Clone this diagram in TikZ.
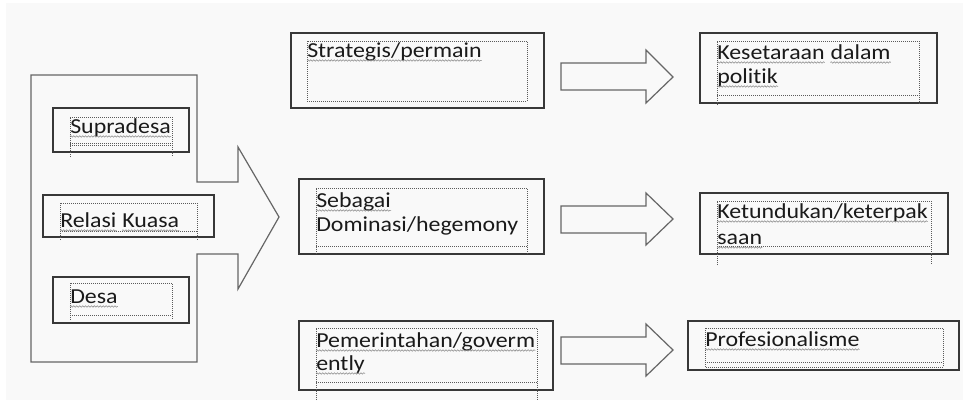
\documentclass[tikz,border=0pt]{standalone}
\usepackage{fontspec}
\setmainfont{Carlito}[FakeStretch=1.12, Ligatures=NoCommon]
\usetikzlibrary{decorations.pathmorphing,fit}
\definecolor{bgc}{HTML}{F9F9F9}
\definecolor{edge}{HTML}{383838}
\definecolor{arr}{HTML}{666666}
\definecolor{dotc}{HTML}{5A5A5A}
\definecolor{txt}{HTML}{1A1A1A}
\definecolor{sqc}{HTML}{8A8A8A}
\newcommand\sqline[1]{\draw[sq] ([yshift=-2.6pt]#1.base west) -- ([yshift=-2.6pt]#1.base east);}
\begin{document}
\begin{tikzpicture}[x=0.75pt,y=-0.75pt,
 box/.style={draw=edge, line width=0.9pt, fill=bgc, inner sep=0pt},
 blockarrow/.style={draw=arr, line width=0.9pt, fill=bgc, line join=miter},
 dotframe/.style={draw=dotc, line width=0.5pt, densely dotted},
 tx/.style={anchor=base west, inner sep=0pt, font=\fontsize{16}{19}\selectfont, text=txt},
 sq/.style={draw=sqc, line width=0.4pt, decorate, decoration={snake, amplitude=0.55pt, segment length=2.2pt}}]
\useasboundingbox (0,0) rectangle (963,400);
\fill[white] (0,0) rectangle (963,400);
\fill[bgc] (6,3) rectangle (963,400);

% big block arrow
\draw[blockarrow] (31,75) -- (197,75) -- (197,182) -- (238,182) -- (238,147) -- (279,217) -- (238,289) -- (238,254) -- (197,254) -- (197,362) -- (31,362) -- cycle;

% small block arrows
\draw[blockarrow] (561,63) -- (646,63) -- (646,50) -- (673,77) -- (646,103) -- (646,90) -- (561,90) -- cycle;
\draw[blockarrow] (561,206) -- (646,206) -- (646,193) -- (673,219) -- (646,245) -- (646,233) -- (561,233) -- cycle;
\draw[blockarrow] (561,337) -- (646,337) -- (646,324) -- (673,350) -- (646,376) -- (646,364) -- (561,364) -- cycle;

% boxes
\node[box, fit={(53,108)(189,152)}] (supbox) {};
\node[box, fit={(43,195)(214,237)}] (relbox) {};
\node[box, fit={(53,277)(189,323)}] (desbox) {};
\node[box, fit={(291,33)(544,108)}] (strbox) {};
\node[box, fit={(299,179)(544,254)}] (sebbox) {};
\node[box, fit={(299,321)(553,390)}] (pembox) {};
\node[box, fit={(700,33)(937,103)}] (kesbox) {};
\node[box, fit={(700,193)(948,254)}] (ketbox) {};
\node[box, fit={(688,321)(959,370)}] (probox) {};

% dotted text frames
\draw[dotframe] (70,157) -- (70,117) -- (172,117) -- (172,157);
\draw[dotframe] (70,143) -- (172,143);
\draw[dotframe] (70,145) -- (172,145);
\draw[dotframe] (60,240) -- (60,203) -- (197,203) -- (197,240);
\draw[dotframe] (60,231) -- (197,231);
\draw[dotframe] (70,320) -- (70,283) -- (172,283) -- (172,320);
\draw[dotframe] (70,315) -- (172,315);
\draw[dotframe] (307,41) rectangle (527,101);
\draw[dotframe] (316,254) -- (316,188) -- (527,188) -- (527,254);
\draw[dotframe] (316,246) -- (527,246);
\draw[dotframe] (316,400) -- (316,328) -- (537,328) -- (537,400);
\draw[dotframe] (316,382) -- (537,382);
\draw[dotframe] (717,105) -- (717,41) -- (919,41) -- (919,105);
\draw[dotframe] (717,95) -- (919,95);
\draw[dotframe] (717,265) -- (717,201) -- (931,201) -- (931,265);
\draw[dotframe] (717,246) -- (931,246);
\draw[dotframe] (705,328) rectangle (943,367);
\draw[dotframe] (705,362) -- (943,362);

% texts
\node[tx] (tsup) at (70,133) {Supradesa};
\node[tx] (trel) at (60,227) {Relasi};
\node[tx] (tkua) at ([xshift=4pt]trel.base east) {Kuasa};
\node[tx] (tdes) at (70,303) {Desa};
\node[tx] (tstr) at (307,57) {Strategis/permain};
\node[tx] (tseb) at (316,207) {Sebagai};
\node[tx] (tdom) at (316,231) {Dominasi/hegemony};
\node[tx] (tpem) at (316,347) {Pemerintahan/goverm};
\node[tx] (tent) at (316,370) {ently};
\node[tx] (tkes) at (717,59) {Kesetaraan};
\node[tx] (tdal) at ([xshift=4pt]tkes.base east) {dalam};
\node[tx] (tpol) at (717,83) {politik};
\node[tx] (tket) at (717,218) {Ketundukan/keterpak};
\node[tx] (tsaa) at (717,244) {saan};
\node[tx] (tpro) at (705,346) {Profesionalisme};

% spelling squiggles
\sqline{tsup}
\sqline{trel}
\sqline{tkua}
\sqline{tdes}
\sqline{tstr}
\sqline{tseb}
\sqline{tpem}
\sqline{tent}
\sqline{tkes}
\sqline{tdal}
\sqline{tpol}
\sqline{tket}
\sqline{tsaa}
\sqline{tpro}
\end{tikzpicture}
\end{document}
